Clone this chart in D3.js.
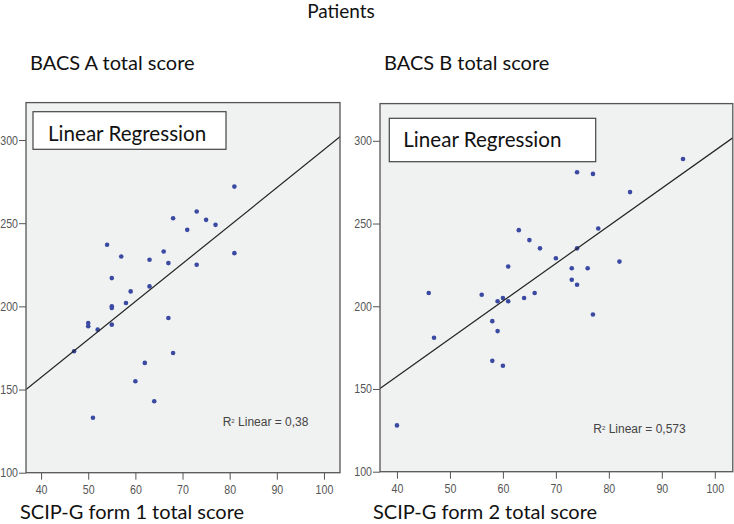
<!DOCTYPE html>
<html><head><meta charset="utf-8">
<script src="https://cdn.jsdelivr.net/npm/d3@7"></script>
<style>body{margin:0;background:#fff} svg{display:block}</style>
</head><body>
<svg id="c" width="734" height="524"></svg>
<script>
// ---- data ----
const xTicks = [40, 50, 60, 70, 80, 90, 100];
const yTicks = [100, 150, 200, 250, 300];
const xDomain = [36.8, 103.4];
const yDomain = [100, 322.5];

const scipForm1 = [81,73,68,75,77,71,54,66,81,57,63,67,73,55,63,59,58,55,55,67,50,50,52,55,47,68,62,60,64,51];
const bacsA     = [272,257,253,252,249,246,237,233,232,230,228,226,225,217,212,209,202,200,199,193,190,188,186,189,173,172,166,155,143,133];

const scipForm2 = [94,74,77,84,78,63,65,67,74,70,82,61,73,76,73,74,46,66,56,60,64,59,61,77,58,59,47,58,60,40];
const bacsB     = [289,281,280,269,247,246,240,235,235,229,227,224,223,223,216,213,208,208,207,205,205,203,203,195,191,185,181,167,164,128];

const fitSlope = [2.282, 2.275];
const fitIntercept = [66.0, 66.6];
const r2Values = ["0,38", "0,573"];
const yTitles = ["BACS A total score", "BACS B total score"];
const xTitles = ["SCIP-G form 1 total score", "SCIP-G form 2 total score"];
const mainTitle = "Patients";
const legendLabel = "Linear Regression";

// ---- layout ----
const svg = d3.select("#c");
const titleFont = "Lato, 'Open Sans', sans-serif";
const tickFont = "'Liberation Sans', Arial, sans-serif";

const panels = [
  {xs: scipForm1, ys: bacsA, x0: 26, x1: 340, yTop: 102.6, yBot: 472.7,
   leg: {x: 33, y: 111.7, w: 193, h: 37.6, tx: 48, ty: 140.7},
   r2: {x: 222.7, y: 425.7}, ytx: 30, yty: 70, xtx: 20, xty: 519},
  {xs: scipForm2, ys: bacsB, x0: 380, x1: 732.8, yTop: 103.6, yBot: 471.7,
   leg: {x: 389.3, y: 118.3, w: 206.4, h: 43.4, tx: 403.3, ty: 147.3},
   r2: {x: 593.3, y: 432.5}, ytx: 384, yty: 70, xtx: 373, xty: 519}
];

svg.append("text").attr("x", 341).attr("y", 18).attr("text-anchor", "middle")
  .style("font-family", titleFont).style("font-size", "19px").attr("fill", "#111").text(mainTitle);

const sx = 0.85;
panels.forEach((p, i) => {
  const x = d3.scaleLinear().domain(xDomain).range([p.x0, p.x1]);
  const y = d3.scaleLinear().domain(yDomain).range([p.yBot, p.yTop]);
  const g = svg.append("g");
  const clipId = "clip" + i;
  svg.append("clipPath").attr("id", clipId).append("rect")
    .attr("x", p.x0).attr("y", p.yTop).attr("width", p.x1 - p.x0).attr("height", p.yBot - p.yTop);

  g.append("rect").attr("x", p.x0).attr("y", p.yTop).attr("width", p.x1 - p.x0).attr("height", p.yBot - p.yTop)
    .attr("fill", "#f0f1f1");

  // axes
  const xAxis = d3.axisBottom(x).tickValues(xTicks).tickSize(7).tickPadding(5).tickSizeOuter(0);
  const yAxis = d3.axisLeft(y).tickValues(yTicks).tickSize(7).tickPadding(1).tickSizeOuter(0);
  const gx = g.append("g").attr("transform", `translate(0,${p.yBot})`).call(xAxis);
  const gy = g.append("g").attr("transform", `translate(${p.x0},0)`).call(yAxis);
  [gx, gy].forEach(a => {
    a.select(".domain").remove();
    a.selectAll("line").attr("stroke", "#555");
    a.selectAll("text").style("font-family", tickFont).style("font-size", "12.5px").attr("fill", "#555");
  });
  gx.selectAll("text").attr("transform", `scale(${sx},1)`);
  gy.selectAll("text").attr("x", -8 / sx).attr("transform", `scale(${sx},1)`);

  // points
  const pts = p.xs.map((v, k) => [v, p.ys[k]]);
  g.append("g").attr("clip-path", `url(#${clipId})`).selectAll("circle").data(pts).join("circle")
    .attr("cx", d => x(d[0])).attr("cy", d => y(d[1])).attr("r", 2.3).attr("fill", "#3a4aa3");

  // regression line
  const line = d3.line().x(d => x(d)).y(d => y(fitIntercept[i] + fitSlope[i] * d));
  g.append("path").attr("clip-path", `url(#${clipId})`).datum(xDomain).attr("d", line)
    .attr("fill", "none").attr("stroke", "#222").attr("stroke-width", 1.2);

  // frame
  g.append("rect").attr("x", p.x0).attr("y", p.yTop).attr("width", p.x1 - p.x0).attr("height", p.yBot - p.yTop)
    .attr("fill", "none").attr("stroke", "#555").attr("stroke-width", 1.3);

  // legend box
  g.append("rect").attr("x", p.leg.x).attr("y", p.leg.y).attr("width", p.leg.w).attr("height", p.leg.h)
    .attr("fill", "#fff").attr("stroke", "#444").attr("stroke-width", 1.2);
  g.append("text").attr("x", p.leg.tx).attr("y", p.leg.ty)
    .style("font-family", titleFont).style("font-size", "20.6px").attr("fill", "#111").text(legendLabel);

  // R2
  const rt = g.append("text").attr("x", p.r2.x).attr("y", p.r2.y)
    .style("font-family", "'Liberation Sans', Arial, sans-serif").style("font-size", "12px").attr("fill", "#444");
  rt.append("tspan").text("R");
  rt.append("tspan").attr("dy", -3).style("font-size", "6px").text("2");
  rt.append("tspan").attr("dy", 3).text(" Linear = " + r2Values[i]);

  // titles
  svg.append("text").attr("x", p.ytx).attr("y", p.yty)
    .style("font-family", titleFont).style("font-size", "20px").attr("fill", "#111").text(yTitles[i]);
  svg.append("text").attr("x", p.xtx).attr("y", p.xty)
    .style("font-family", titleFont).style("font-size", "20px").attr("fill", "#111").text(xTitles[i]);
});
</script>
</body></html>
